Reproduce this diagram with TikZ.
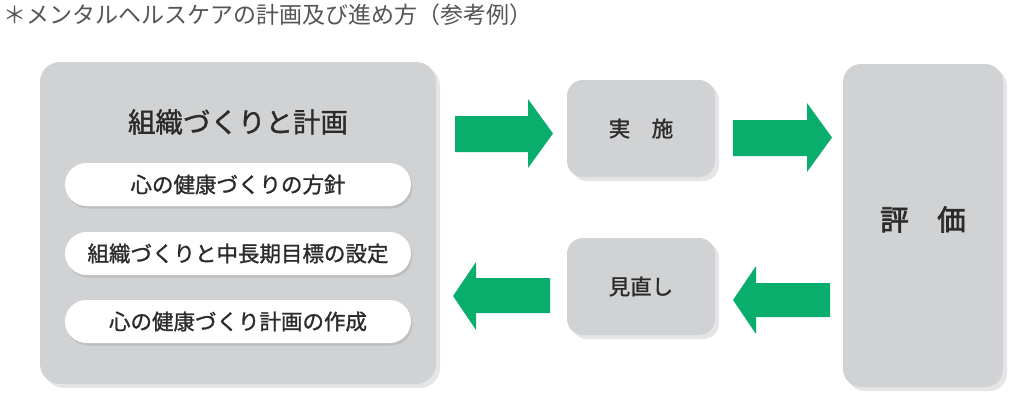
\documentclass[tikz,border=0pt]{standalone}
\usepackage{fontspec}
\newfontfamily\jp{Noto Sans CJK JP}[FakeBold=1.2]
\newfontfamily\jph{Noto Sans CJK JP}
\newfontfamily\jpb{Noto Sans CJK JP}[FakeBold=2.6]
\usetikzlibrary{shadows}
\definecolor{boxgray}{HTML}{D1D2D4}
\definecolor{shadowgray}{HTML}{E4E5E6}
\definecolor{pillshadow}{HTML}{BDBEC0}
\definecolor{agreen}{HTML}{09AE6D}
\definecolor{txt}{HTML}{2B2B2B}
\definecolor{headtxt}{HTML}{555555}
\begin{document}
\begin{tikzpicture}[x=1pt,y=-1pt,
  panel/.style={rectangle, fill=boxgray, inner sep=0pt, text=txt,
    drop shadow={shadow xshift=4pt, shadow yshift=-4pt, fill=shadowgray, opacity=1}},
  pill/.style={rectangle, rounded corners=21.5pt, fill=white, inner sep=0pt,
    minimum width=346pt, minimum height=43pt, text=txt,
    font=\jp\fontsize{21.5pt}{24pt}\selectfont,
    drop shadow={shadow xshift=1.5pt, shadow yshift=-2.5pt, fill=pillshadow, opacity=1}},
  smallbox/.style={panel, rounded corners=16pt, minimum width=148pt, minimum height=97pt,
    font=\jp\fontsize{21.5pt}{24pt}\selectfont},
  blockarrow/.style={fill=agreen}
]
\useasboundingbox (0,0) rectangle (1024,399);

\node[anchor=west, text=headtxt, inner sep=0pt,
  font=\jph\fontsize{23pt}{25pt}\selectfont] (head) at (3,15)
  {＊メンタルヘルスケアの計画及び進め方（参考例）};

% left panel
\node[panel, rounded corners=20pt, minimum width=396pt, minimum height=322pt] (plan) at (238,223) {};
\node[text=txt, inner sep=0pt, font=\jp\fontsize{27.5pt}{30pt}\selectfont] (plantitle) at (238,122) {組織づくりと計画};
\node[pill] (p1) at (238,184.5) {心の健康づくりの方針};
\node[pill] (p2) at (238,253.5) {組織づくりと中長期目標の設定};
\node[pill] (p3) at (238,321.5) {心の健康づくり計画の作成};

% middle boxes
\node[smallbox] (do) at (641,128.5) {実　施};
\node[smallbox] (review) at (641,286.5) {見直し};

% right panel
\node[panel, rounded corners=18pt, minimum width=160pt, minimum height=323pt,
  label={[text=txt, inner sep=0pt, yshift=6pt, font=\jpb\fontsize{28.5pt}{31pt}\selectfont]center:評　価}] (eval) at (923,225.5) {};

% block arrows
\fill[blockarrow] (455,116) -- (528,116) -- (528,99) -- (553,133.5) -- (528,168) -- (528,152) -- (455,152) -- cycle;
\fill[blockarrow] (733,120) -- (807,120) -- (807,103) -- (832,137.5) -- (807,172) -- (807,156) -- (733,156) -- cycle;
\fill[blockarrow] (550,278) -- (476,278) -- (476,262) -- (453,296) -- (476,330) -- (476,313) -- (550,313) -- cycle;
\fill[blockarrow] (830,283) -- (756,283) -- (756,266) -- (733,300) -- (756,334) -- (756,317) -- (830,317) -- cycle;
\end{tikzpicture}
\end{document}
